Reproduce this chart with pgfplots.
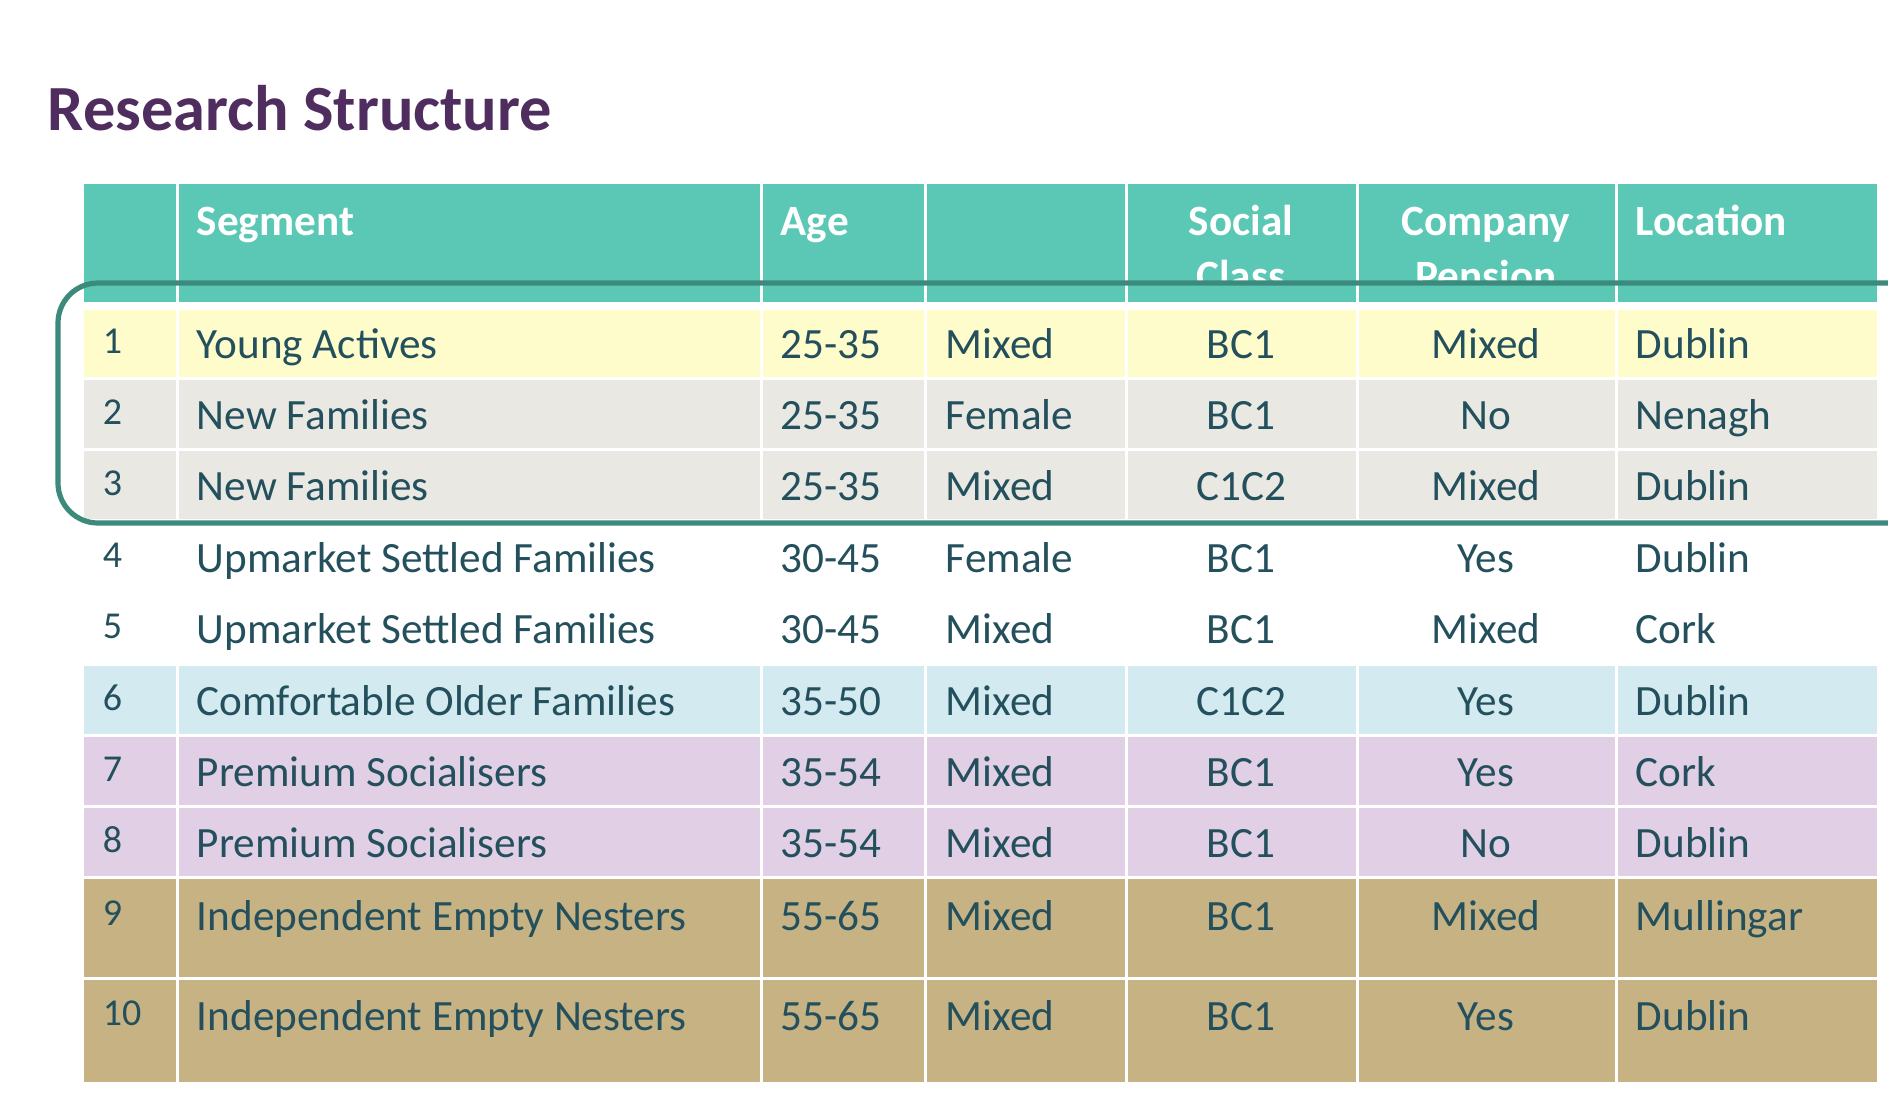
\documentclass[border=0pt]{standalone}
\usepackage{pgfplots}
\pgfplotsset{compat=1.18}
\usepackage{fontspec}
\setmainfont{Carlito}
\definecolor{hdr}{RGB}{91,200,181}
\definecolor{yel}{RGB}{255,252,204}
\definecolor{gry}{RGB}{233,232,227}
\definecolor{blu}{RGB}{211,234,240}
\definecolor{lil}{RGB}{225,207,230}
\definecolor{tan}{RGB}{198,178,131}
\definecolor{txt}{RGB}{35,80,92}
\definecolor{ttl}{RGB}{80,45,95}
\definecolor{outl}{RGB}{60,138,124}
\newcommand{\bodyf}{\fontsize{10.8}{13}\selectfont}
\newcommand{\numf}{\fontsize{9.5}{11}\selectfont}
\newcommand{\vgrid}[1]{\draw[white, line width=0.75pt] (axis cs:#1,184) -- (axis cs:#1,1082);}
\newcommand{\hgrid}[1]{\draw[white, line width=0.75pt] (axis cs:84,#1) -- (axis cs:1877,#1);}
\newcommand{\trow}[8]{%
  \node[anchor=base west, inner sep=0, text=txt, font=\numf] at (axis cs:102,#2-5) {#1};
  \node[anchor=base west, inner sep=0, text=txt, font=\bodyf] at (axis cs:196,#2) {#3};
  \node[anchor=base west, inner sep=0, text=txt, font=\bodyf] at (axis cs:780,#2) {#4};
  \node[anchor=base west, inner sep=0, text=txt, font=\bodyf] at (axis cs:945,#2) {#5};
  \node[anchor=base, inner sep=0, text=txt, font=\bodyf] at (axis cs:1241,#2) {#6};
  \node[anchor=base, inner sep=0, text=txt, font=\bodyf] at (axis cs:1486,#2) {#7};
  \node[anchor=base west, inner sep=0, text=txt, font=\bodyf] at (axis cs:1635,#2) {#8};
}
\begin{document}
\begin{tikzpicture}
\begin{axis}[
  scale only axis, width=472pt, height=273.5pt,
  xmin=0, xmax=1888, ymin=0, ymax=1094, y dir=reverse,
  hide axis, clip=false,
]
% background (defines the picture size)
\fill[white] (axis cs:0,0) rectangle (axis cs:1888,1094);
% title
\node[anchor=base west, inner sep=0, text=ttl, font=\fontsize{16.1}{19}\selectfont\bfseries] at (axis cs:47,130) {Research Structure};
% row fills
\fill[hdr] (axis cs:84,184) rectangle (axis cs:1877,302);
\fill[yel] (axis cs:84,310) rectangle (axis cs:1877,378);
\fill[gry] (axis cs:84,378) rectangle (axis cs:1877,520);
\fill[blu] (axis cs:84,664) rectangle (axis cs:1877,735);
\fill[lil] (axis cs:84,735) rectangle (axis cs:1877,877);
\fill[tan] (axis cs:84,877) rectangle (axis cs:1877,1082);
% header text
\node[anchor=base west, inner sep=0, text=white, font=\bodyf\bfseries] at (axis cs:196,235) {Segment};
\node[anchor=base west, inner sep=0, text=white, font=\bodyf\bfseries] at (axis cs:780,235) {Age};
\node[anchor=base, inner sep=0, text=white, font=\bodyf\bfseries] at (axis cs:1241,235) {Social};
\node[anchor=base, inner sep=0, text=white, font=\bodyf\bfseries] at (axis cs:1241,290) {Class};
\node[anchor=base, inner sep=0, text=white, font=\bodyf\bfseries] at (axis cs:1486,235) {Company};
\node[anchor=base, inner sep=0, text=white, font=\bodyf\bfseries] at (axis cs:1486,290) {Pension};
\node[anchor=base west, inner sep=0, text=white, font=\bodyf\bfseries] at (axis cs:1635,235) {Location};
% header cell text is cut below the outline
\fill[hdr] (axis cs:1100,285) rectangle (axis cs:1640,302);
% white grid lines
\vgrid{177}\vgrid{761}\vgrid{925}\vgrid{1126}\vgrid{1357}\vgrid{1616}
\hgrid{378}\hgrid{449}\hgrid{520}\hgrid{664}\hgrid{735}\hgrid{806}\hgrid{877}\hgrid{978}
% body rows
\trow{1}{358}{Young Actives}{25-35}{Mixed}{BC1}{Mixed}{Dublin}
\trow{2}{429}{New Families}{25-35}{Female}{BC1}{No}{Nenagh}
\trow{3}{500}{New Families}{25-35}{Mixed}{C1C2}{Mixed}{Dublin}
\trow{4}{572}{Upmarket Settled Families}{30-45}{Female}{BC1}{Yes}{Dublin}
\trow{5}{643}{Upmarket Settled Families}{30-45}{Mixed}{BC1}{Mixed}{Cork}
\trow{6}{715}{Comfortable Older Families}{35-50}{Mixed}{C1C2}{Yes}{Dublin}
\trow{7}{786}{Premium Socialisers}{35-54}{Mixed}{BC1}{Yes}{Cork}
\trow{8}{857}{Premium Socialisers}{35-54}{Mixed}{BC1}{No}{Dublin}
\trow{9}{930}{Independent Empty Nesters}{55-65}{Mixed}{BC1}{Mixed}{Mullingar}
\trow{10}{1030}{Independent Empty Nesters}{55-65}{Mixed}{BC1}{Yes}{Dublin}
% highlight outline
\draw[outl, line width=1.3pt, rounded corners=10pt] (axis cs:1888,283) -- (axis cs:58,283) -- (axis cs:58,523) -- (axis cs:1888,523);
\end{axis}
\pgfresetboundingbox
\useasboundingbox (current axis.south west) rectangle (current axis.north east);
\end{tikzpicture}
\end{document}
